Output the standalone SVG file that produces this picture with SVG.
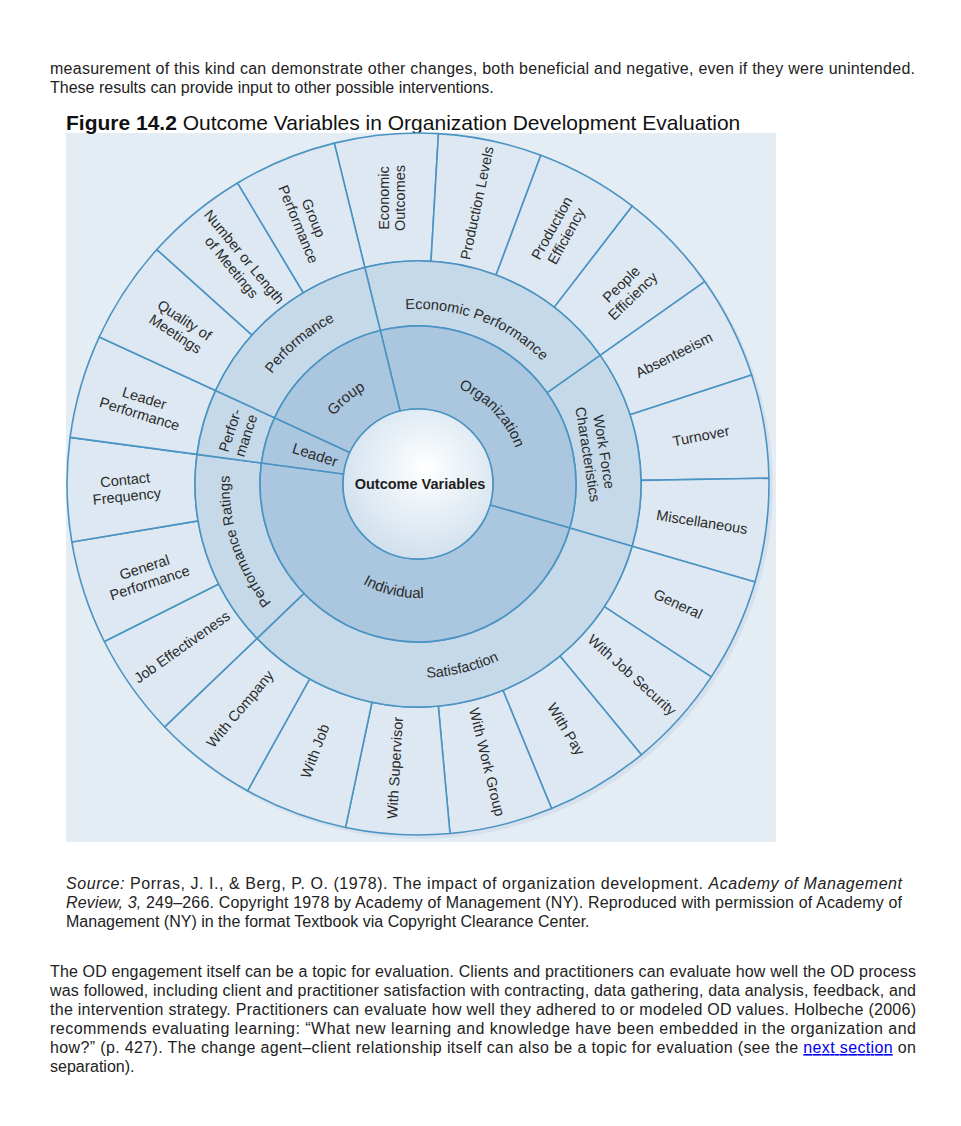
<svg xmlns="http://www.w3.org/2000/svg" width="961" height="1126" viewBox="0 0 961 1126">
<defs>
<style>
.body{font-family:"Liberation Sans",Arial,sans-serif;font-size:16px;fill:#222}
.it{font-style:italic}
.lnk{fill:#0000ee;text-decoration:underline}
.lbl{font-family:"Liberation Sans",Arial,sans-serif;font-size:14.5px;fill:#2b2b2b;text-anchor:middle}
.lbl2{font-family:"Liberation Sans",Arial,sans-serif;font-size:15px;fill:#2b2b2b;text-anchor:middle}
.sec{stroke:#4b93c3;stroke-width:1.6;stroke-linejoin:round}
.o{fill:#dde8f2}
.m{fill:#c6d9e9}
.i{fill:#abc7df}
</style>
<radialGradient id="cg" cx="0.55" cy="0.4" r="0.65">
<stop offset="0" stop-color="#ffffff"/>
<stop offset="1" stop-color="#cddeec"/>
</radialGradient>
<path id="pEcon" d="M332.21,331.47 A175,175 0 0 1 583.11,426.02"/>
<path id="pPerf" d="M235,484 A183,183 0 0 1 449.78,303.78"/>
<path id="pSat" d="M303.02,640.25 A194,194 0 0 0 591.84,570.12"/>
<path id="pRat" d="M347.96,659.54 A190,190 0 0 1 257.27,384.55"/>
<path id="pOrg" d="M393.55,382.91 A104,104 0 0 1 517.77,513.36"/>
<path id="pInd" d="M308.98,517.33 A114,114 0 0 0 501.38,561.75"/>
<path id="pGrp" d="M311.64,465.25 A108,108 0 0 1 418,376"/>
</defs>

<rect x="0" y="0" width="961" height="1126" fill="#ffffff"/>

<!-- page text -->
<g id="text-top">
<text class="body" x="50" y="74" textLength="865" lengthAdjust="spacing">measurement of this kind can demonstrate other changes, both beneficial and negative, even if they were unintended.</text>
<text class="body" x="50" y="93">These results can provide input to other possible interventions.</text>
</g>

<rect id="figure-bg" x="66" y="133" width="710" height="709" fill="#e4ecf4"/>
<text id="title" x="66" y="130" font-family="Liberation Sans, Arial, sans-serif" font-size="21" fill="#111"><tspan font-weight="bold">Figure 14.2</tspan> Outcome Variables in Organization Development Evaluation</text>

<circle cx="421" cy="487" r="352" fill="#d2dfeb" opacity="0.8"/>

<!-- outer ring -->
<g id="outer-ring">
<g id="n-economic-outcomes"><path class="sec o" d="M334.29,143.14 A351,351 0 0 1 438.46,133.6 L431,261.38 A223,223 0 0 0 364.81,267.44 Z"/>
<text class="lbl" transform="translate(392,198) rotate(-90)"><tspan x="0" y="-3.2">Economic</tspan><tspan x="0" y="13.3">Outcomes</tspan></text></g>
<g id="n-production-levels"><path class="sec o" d="M438.46,133.6 A351,351 0 0 1 540.85,155.18 L496.05,275.09 A223,223 0 0 0 431,261.38 Z"/>
<text class="lbl" transform="translate(477,203) rotate(-78)" y="5">Production Levels</text></g>
<g id="n-production-efficiency"><path class="sec o" d="M540.85,155.18 A351,351 0 0 1 632.32,206.01 L554.16,307.38 A223,223 0 0 0 496.05,275.09 Z"/>
<text class="lbl" transform="translate(559,232) rotate(-61)"><tspan x="0" y="-3.2">Production</tspan><tspan x="0" y="13.3">Efficiency</tspan></text></g>
<g id="n-people-efficiency"><path class="sec o" d="M632.32,206.01 A351,351 0 0 1 704.73,281.54 L600.17,355.37 A223,223 0 0 0 554.16,307.38 Z"/>
<text class="lbl" transform="translate(627,290) rotate(-44)"><tspan x="0" y="-3.2">People</tspan><tspan x="0" y="13.3">Efficiency</tspan></text></g>
<g id="n-absenteeism"><path class="sec o" d="M704.73,281.54 A351,351 0 0 1 751.66,375.05 L629.98,414.78 A223,223 0 0 0 600.17,355.37 Z"/>
<text class="lbl" transform="translate(674,355) rotate(-26.7)" y="5">Absenteeism</text></g>
<g id="n-turnover"><path class="sec o" d="M751.66,375.05 A351,351 0 0 1 768.95,478.22 L640.97,480.33 A223,223 0 0 0 629.98,414.78 Z"/>
<text class="lbl" transform="translate(701,436) rotate(-11)" y="5">Turnover</text></g>
<g id="n-miscellaneous"><path class="sec o" d="M768.95,478.22 A351,351 0 0 1 755.07,581.93 L632.15,546.22 A223,223 0 0 0 640.97,480.33 Z"/>
<text class="lbl" transform="translate(702,522) rotate(9)" y="5">Miscellaneous</text></g>
<g id="n-general"><path class="sec o" d="M755.07,581.93 A351,351 0 0 1 711.23,676.91 L604.29,606.56 A223,223 0 0 0 632.15,546.22 Z"/>
<text class="lbl" transform="translate(678,604) rotate(24.8)" y="5">General</text></g>
<g id="n-with-job-security"><path class="sec o" d="M711.23,676.91 A351,351 0 0 1 641.34,754.78 L559.9,656.03 A223,223 0 0 0 604.29,606.56 Z"/>
<text class="lbl" transform="translate(632,675) rotate(41.9)" y="5">With Job Security</text></g>
<g id="n-with-pay"><path class="sec o" d="M641.34,754.78 A351,351 0 0 1 551.59,808.57 L502.87,690.2 A223,223 0 0 0 559.9,656.03 Z"/>
<text class="lbl" transform="translate(566,729) rotate(59)" y="5">With Pay</text></g>
<g id="n-with-work-group"><path class="sec o" d="M551.59,808.57 A351,351 0 0 1 449.98,833.53 L438.32,706.06 A223,223 0 0 0 502.87,690.2 Z"/>
<text class="lbl" transform="translate(487,762) rotate(76.2)" y="5">With Work Group</text></g>
<g id="n-with-supervisor"><path class="sec o" d="M449.98,833.53 A351,351 0 0 1 345.55,827.45 L371.97,702.21 A223,223 0 0 0 438.32,706.06 Z"/>
<text class="lbl" transform="translate(395,768) rotate(-86.7)" y="5">With Supervisor</text></g>
<g id="n-with-job"><path class="sec o" d="M345.55,827.45 A351,351 0 0 1 247.52,790.81 L309.69,678.92 A223,223 0 0 0 371.97,702.21 Z"/>
<text class="lbl" transform="translate(315,751) rotate(-69.5)" y="5">With Job</text></g>
<g id="n-with-company"><path class="sec o" d="M247.52,790.81 A351,351 0 0 1 164.65,726.93 L257.04,638.34 A223,223 0 0 0 309.69,678.92 Z"/>
<text class="lbl" transform="translate(240,709) rotate(-50)" y="5">With Company</text></g>
<g id="n-job-effectiveness"><path class="sec o" d="M164.65,726.93 A351,351 0 0 1 104.31,641.49 L218.7,584.06 A223,223 0 0 0 257.04,638.34 Z"/>
<text class="lbl" transform="translate(182,647) rotate(-35.2)" y="5">Job Effectiveness</text></g>
<g id="n-general-performance"><path class="sec o" d="M104.31,641.49 A351,351 0 0 1 71.84,542.02 L198.08,520.86 A223,223 0 0 0 218.7,584.06 Z"/>
<text class="lbl" transform="translate(147,575) rotate(-18)"><tspan x="0" y="-3.2">General</tspan><tspan x="0" y="13.3">Performance</tspan></text></g>
<g id="n-contact-frequency"><path class="sec o" d="M71.84,542.02 A351,351 0 0 1 70.12,437.39 L196.98,454.39 A223,223 0 0 0 198.08,520.86 Z"/>
<text class="lbl" transform="translate(126,488) rotate(-6)"><tspan x="0" y="-3.2">Contact</tspan><tspan x="0" y="13.3">Frequency</tspan></text></g>
<g id="n-leader-performance"><path class="sec o" d="M70.12,437.39 A351,351 0 0 1 99.29,336.93 L215.52,390.56 A223,223 0 0 0 196.98,454.39 Z"/>
<text class="lbl" transform="translate(142,406) rotate(17)"><tspan x="0" y="-3.2">Leader</tspan><tspan x="0" y="13.3">Performance</tspan></text></g>
<g id="n-quality-of-meetings"><path class="sec o" d="M99.29,336.93 A351,351 0 0 1 156.82,249.53 L252.07,335.04 A223,223 0 0 0 215.52,390.56 Z"/>
<text class="lbl" transform="translate(180,327) rotate(33.3)"><tspan x="0" y="-3.2">Quality of</tspan><tspan x="0" y="13.3">Meetings</tspan></text></g>
<g id="n-number-or-length"><path class="sec o" d="M156.82,249.53 A351,351 0 0 1 237.52,182.95 L303.33,292.73 A223,223 0 0 0 252.07,335.04 Z"/>
<text class="lbl" transform="translate(238,262) rotate(50.5)"><tspan x="0" y="-3.2">Number or Length</tspan><tspan x="0" y="13.3">of Meetings</tspan></text></g>
<g id="n-group-performance"><path class="sec o" d="M237.52,182.95 A351,351 0 0 1 334.29,143.14 L364.81,267.44 A223,223 0 0 0 303.33,292.73 Z"/>
<text class="lbl" transform="translate(306,221) rotate(67.6)"><tspan x="0" y="-3.2">Group</tspan><tspan x="0" y="13.3">Performance</tspan></text></g>
</g>

<!-- middle ring -->
<g id="middle-ring">
<g id="n-economic-performance"><path class="sec m" d="M364.81,267.44 A223,223 0 0 1 600.17,355.37 L547.07,392.87 A158,158 0 0 0 380.32,330.57 Z"/>
<text class="lbl"><textPath href="#pEcon" startOffset="50%">Economic Performance</textPath></text></g>
<g id="n-work-force"><path class="sec m" d="M600.17,355.37 A223,223 0 0 1 632.15,546.22 L569.73,528.08 A158,158 0 0 0 547.07,392.87 Z"/>
<text class="lbl" transform="translate(596,453) rotate(81)"><tspan x="0" y="-3.2">Work Force</tspan><tspan x="0" y="13.3">Characteristics</tspan></text></g>
<g id="n-satisfaction"><path class="sec m" d="M632.15,546.22 A223,223 0 0 1 257.04,638.34 L303.96,593.35 A158,158 0 0 0 569.73,528.08 Z"/>
<text class="lbl"><textPath href="#pSat" startOffset="50%">Satisfaction</textPath></text></g>
<g id="n-performance-ratings"><path class="sec m" d="M257.04,638.34 A223,223 0 0 1 196.98,454.39 L261.41,463.03 A158,158 0 0 0 303.96,593.35 Z"/>
<text class="lbl"><textPath href="#pRat" startOffset="50%">Performance Ratings</textPath></text></g>
<g id="n-perfor-mance"><path class="sec m" d="M196.98,454.39 A223,223 0 0 1 215.52,390.56 L274.54,417.8 A158,158 0 0 0 261.41,463.03 Z"/>
<text class="lbl" transform="translate(238,433) rotate(-72)"><tspan x="0" y="-3.2">Perfor-</tspan><tspan x="0" y="13.3">mance</tspan></text></g>
<g id="n-performance"><path class="sec m" d="M215.52,390.56 A223,223 0 0 1 364.81,267.44 L380.32,330.57 A158,158 0 0 0 274.54,417.8 Z"/>
<text class="lbl"><textPath href="#pPerf" startOffset="50%">Performance</textPath></text></g>
</g>

<!-- inner ring -->
<g id="inner-ring">
<g id="n-organization"><path class="sec i" d="M380.32,330.57 A158,158 0 0 1 569.73,528.08 L490.02,504.93 A75,75 0 0 0 400.11,411.17 Z"/>
<text class="lbl2"><textPath href="#pOrg" startOffset="50%">Organization</textPath></text></g>
<g id="n-individual"><path class="sec i" d="M569.73,528.08 A158,158 0 0 1 261.41,463.03 L343.67,474.04 A75,75 0 0 0 490.02,504.93 Z"/>
<text class="lbl2"><textPath href="#pInd" startOffset="50%">Individual</textPath></text></g>
<g id="n-leader"><path class="sec i" d="M261.41,463.03 A158,158 0 0 1 274.54,417.8 L349.9,452.57 A75,75 0 0 0 343.67,474.04 Z"/>
<text class="lbl2" transform="translate(315,455) rotate(18)" y="5">Leader</text></g>
<g id="n-group"><path class="sec i" d="M274.54,417.8 A158,158 0 0 1 380.32,330.57 L400.11,411.17 A75,75 0 0 0 349.9,452.57 Z"/>
<text class="lbl2"><textPath href="#pGrp" startOffset="50%">Group</textPath></text></g>
</g>

<g id="n-outcome-variables">
<circle class="sec" cx="418" cy="484" r="75" fill="url(#cg)"/>
<text x="420" y="489" text-anchor="middle" font-family="Liberation Sans, Arial, sans-serif" font-size="14.5" font-weight="bold" fill="#1e1e1e">Outcome Variables</text>
</g>

<!-- source -->
<g id="source">
<text class="body" x="66" y="889" textLength="836" lengthAdjust="spacing"><tspan class="it">Source:</tspan> Porras, J. I., &amp; Berg, P. O. (1978). The impact of organization development. <tspan class="it">Academy of Management</tspan></text>
<text class="body" x="66" y="908" textLength="836" lengthAdjust="spacing"><tspan class="it">Review, 3,</tspan> 249–266. Copyright 1978 by Academy of Management (NY). Reproduced with permission of Academy of</text>
<text class="body" x="66" y="927">Management (NY) in the format Textbook via Copyright Clearance Center.</text>
</g>

<g id="text-bottom">
<text class="body" x="50" y="977" textLength="866" lengthAdjust="spacing">The OD engagement itself can be a topic for evaluation. Clients and practitioners can evaluate how well the OD process</text>
<text class="body" x="50" y="996" textLength="866" lengthAdjust="spacing">was followed, including client and practitioner satisfaction with contracting, data gathering, data analysis, feedback, and</text>
<text class="body" x="50" y="1015" textLength="866" lengthAdjust="spacing">the intervention strategy. Practitioners can evaluate how well they adhered to or modeled OD values. Holbeche (2006)</text>
<text class="body" x="50" y="1034" textLength="866" lengthAdjust="spacing">recommends evaluating learning: “What new learning and knowledge have been embedded in the organization and</text>
<text class="body" x="50" y="1053" textLength="866" lengthAdjust="spacing">how?” (p. 427). The change agent–client relationship itself can also be a topic for evaluation (see the <tspan class="lnk">next section</tspan> on</text>
<text class="body" x="50" y="1072">separation).</text>
</g>
</svg>
